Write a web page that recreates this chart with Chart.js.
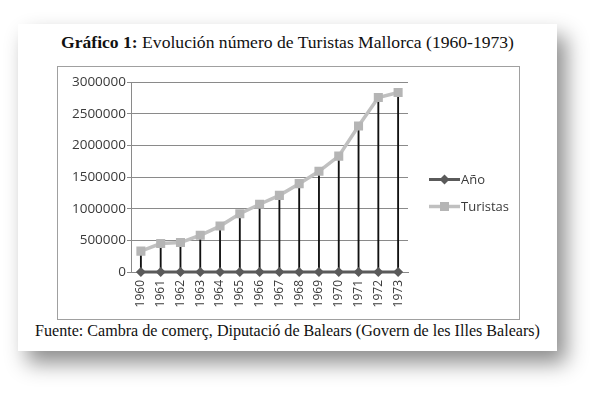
<!DOCTYPE html>
<html>
<head>
<meta charset="utf-8">
<script src="https://cdn.jsdelivr.net/npm/chart.js@4.4.1/dist/chart.umd.min.js"></script>
<style>
    html, body { margin: 0; padding: 0; background: #fff; width: 600px; height: 393px; overflow: hidden; }
    #card {
        position: absolute; left: 18px; top: 24px; width: 539px; height: 327px;
        background: #fff; box-shadow: 9px 12px 20px rgba(0, 0, 0, 0.45);
    }
    .cap {
        position: absolute; left: 0; width: 539px; text-align: center; white-space: nowrap;
        font-family: "Liberation Serif", "Times New Roman", serif; color: #111;
    }
    #title { top: 8px; font-size: 17.6px; line-height: 20px; }
    #source { top: 297px; font-size: 16.1px; line-height: 20px; }
    #frame { position: absolute; left: 39px; top: 42px; width: 461px; height: 252px; border: 1px solid #a0a0a0; }
    #frame canvas { display: block; }
</style>
</head>
<body>
<div id="card">
    <div id="title" class="cap"><b>Gráfico 1:</b> Evolución número de Turistas Mallorca (1960-1973)</div>
    <div id="frame"><canvas id="turistasChart" width="461" height="252"></canvas></div>
    <div id="source" class="cap">Fuente: Cambra de comerç, Diputació de Balears (Govern de les Illes Balears)</div>
</div>
<script>
// Data
const years = ['1960', '1961', '1962', '1963', '1964', '1965', '1966',
               '1967', '1968', '1969', '1970', '1971', '1972', '1973'];
const anoValues = [1960, 1961, 1962, 1963, 1964, 1965, 1966,
                   1967, 1968, 1969, 1970, 1971, 1972, 1973];
const turistas = [330000, 450000, 465000, 580000, 725000, 920000, 1070000,
                  1210000, 1395000, 1590000, 1830000, 2305000, 2755000, 2835000];
const yTicks = [0, 500000, 1000000, 1500000, 2000000, 2500000, 3000000];

const FAMILY = '"Open Sans", sans-serif';
const TEXT_COLOR = '#3a3a3a';

// Excel-style legend at the right: line sample with the marker in the middle
const sideLegend = {
    id: 'sideLegend',
    afterDraw(chart) {
        const ctx = chart.ctx;
        const items = chart.data.datasets.filter(d => d.inLegend);
        const x0 = chart.chartArea.right + 21;
        const midY = chart.height / 2;
        ctx.save();
        items.forEach((ds, i) => {
            const y = midY + (i - (items.length - 1) / 2) * 27;
            ctx.strokeStyle = ds.borderColor;
            ctx.lineWidth = ds.borderWidth;
            ctx.beginPath();
            ctx.moveTo(x0, y);
            ctx.lineTo(x0 + 31, y);
            ctx.stroke();
            ctx.fillStyle = ds.pointBackgroundColor;
            const cx = x0 + 15.5;
            ctx.beginPath();
            if (ds.pointStyle === 'rectRot') {
                const r = ds.pointRadius;
                ctx.moveTo(cx, y - r); ctx.lineTo(cx + r, y); ctx.lineTo(cx, y + r); ctx.lineTo(cx - r, y);
            } else {
                const s = ds.pointRadius * Math.SQRT1_2;
                ctx.rect(cx - s, y - s, 2 * s, 2 * s);
            }
            ctx.closePath();
            ctx.fill();
            ctx.fillStyle = TEXT_COLOR;
            ctx.font = '13px ' + FAMILY;
            ctx.textBaseline = 'middle';
            ctx.textAlign = 'left';
            ctx.fillText(ds.label, x0 + 32, y + 0.5);
        });
        ctx.restore();
    }
};

const ctx = document.getElementById('turistasChart').getContext('2d');
new Chart(ctx, {
    type: 'line',
    data: {
        labels: years,
        datasets: [
            {
                label: 'Año',
                data: anoValues,
                inLegend: true,
                clip: false,
                borderColor: '#5a5a5a',
                borderWidth: 3,
                pointStyle: 'rectRot',
                pointRadius: 5,
                pointBackgroundColor: '#5a5a5a',
                pointBorderColor: '#5a5a5a',
                pointBorderWidth: 0,
                order: 1
            },
            {
                label: 'Turistas',
                data: turistas,
                inLegend: true,
                borderColor: '#c0c0c0',
                borderWidth: 3.5,
                pointStyle: 'rect',
                pointRadius: 6.4,
                pointBackgroundColor: '#b5b5b5',
                pointBorderColor: '#b5b5b5',
                pointBorderWidth: 0,
                order: 2
            },
            {
                // drop lines from the axis up to each Turistas point
                type: 'bar',
                label: 'drop',
                data: turistas,
                backgroundColor: '#111',
                barThickness: 1.2,
                order: 3
            }
        ]
    },
    options: {
        responsive: false,
        animation: false,
        layout: { padding: { top: 15, right: 111, left: 0, bottom: 0 } },
        plugins: {
            legend: { display: false },
            tooltip: { enabled: false }
        },
        scales: {
            x: {
                offset: true,
                grid: { display: false, drawTicks: false },
                border: { color: '#888', width: 1 },
                ticks: {
                    color: TEXT_COLOR, font: { family: FAMILY, size: 12 }, padding: 8,
                    minRotation: 90, maxRotation: 90, autoSkip: false
                },
                afterFit: (scale) => { scale.height = 47; }
            },
            y: {
                min: 0,
                max: 3000000,
                afterBuildTicks: (scale) => { scale.ticks = yTicks.map(v => ({ value: v })); },
                grid: { color: '#8a8a8a', lineWidth: 1, tickLength: 4, drawTicks: true },
                border: { color: '#8a8a8a', width: 1 },
                ticks: {
                    color: TEXT_COLOR, font: { family: FAMILY, size: 13.5 }, padding: 1,
                    callback: (value) => String(value)
                },
                afterFit: (scale) => { scale.width = 73; }
            }
        }
    },
    plugins: [sideLegend]
});
</script>
</body>
</html>
